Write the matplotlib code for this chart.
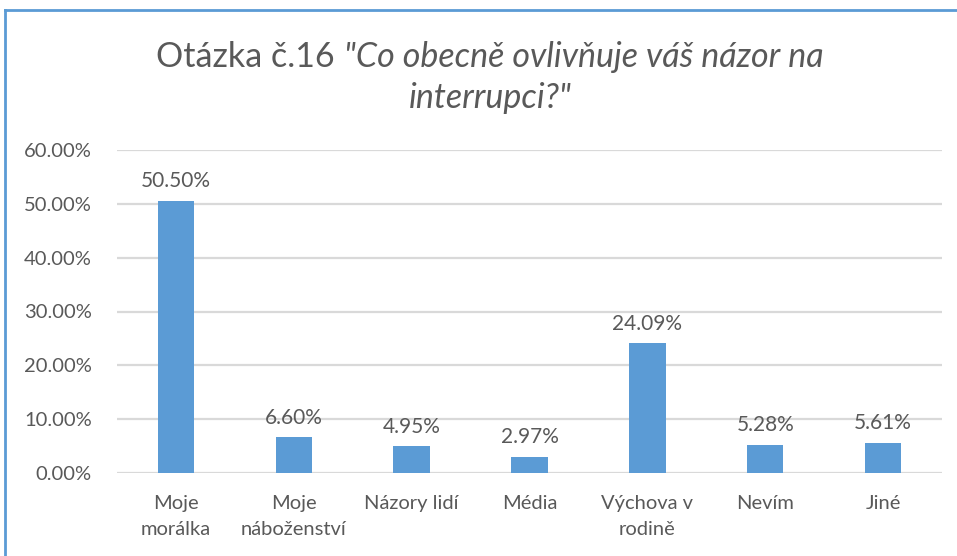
import matplotlib.pyplot as plt
from matplotlib.lines import Line2D
from matplotlib.ticker import FuncFormatter

outfile = 'out.png'

categories = ['Moje\nmorálka', 'Moje\nnáboženství', 'Názory lidí', 'Média',
              'Výchova v\nrodině', 'Nevím', 'Jiné']
values = [50.50, 6.60, 4.95, 2.97, 24.09, 5.28, 5.61]
yticks = [0, 10, 20, 30, 40, 50, 60]

title_plain = 'Otázka č.16 '
title_italic = '"Co obecně ovlivňuje váš názor na'
title_line2 = 'interrupci?"'

bar_color = '#5B9BD5'
text_color = '#595959'
grid_color = '#D9D9D9'
font = ['Lato', 'DejaVu Sans']

plt.rcParams['font.family'] = font

W, H = 957, 556
fig = plt.figure(figsize=(W / 100, H / 100), dpi=100, facecolor='w')
ax = fig.add_axes([117 / W, 1 - 473 / H, (942 - 117) / W, (473 - 150) / H])

x = list(range(len(categories)))
bars = ax.bar(x, values, width=0.31, color=bar_color, zorder=3)

ax.set_xlim(-0.5, len(categories) - 0.5)
ax.set_ylim(0, 60)
ax.set_yticks(yticks)
ax.yaxis.set_major_formatter(FuncFormatter(lambda v, p: '%.2f%%' % v))
ax.set_xticks(x)
ax.set_xticklabels(categories, linespacing=1.6)
ax.tick_params(axis='both', length=0, colors=text_color)
ax.tick_params(axis='x', pad=16, labelsize=14.5)
ax.tick_params(axis='y', pad=18, labelsize=14.5)
ax.grid(axis='y', color=grid_color, linewidth=1.6, zorder=0)
for s in ax.spines.values():
    s.set_visible(False)

for b, v in zip(bars, values):
    ax.annotate('%.2f%%' % v, (b.get_x() + b.get_width() / 2, v),
                xytext=(0, 7), textcoords='offset points',
                ha='center', va='bottom', fontsize=15, color=text_color)

# title: plain + italic parts centred as one line
renderer = fig.canvas.get_renderer()
cx = 490 / W
y1 = 1 - 57 / H
y2 = 1 - 98 / H
t1 = fig.text(0, y1, title_plain, fontsize=24.5, color=text_color, va='center')
t2 = fig.text(0, y1, title_italic, fontsize=24.5, color=text_color, va='center',
              style='italic')
w1 = t1.get_window_extent(renderer).width / W
w2 = t2.get_window_extent(renderer).width / W
start = cx - (w1 + w2) / 2
t1.set_x(start)
t2.set_x(start + w1)
fig.text(cx, y2, title_line2, fontsize=24.5, color=text_color, va='center',
         ha='center', style='italic')

# chart frame (top and left edges visible)
fig.add_artist(Line2D([5 / W, 1], [1 - 10 / H, 1 - 10 / H], color=bar_color,
                      linewidth=2, transform=fig.transFigure))
fig.add_artist(Line2D([5 / W, 5 / W], [0, 1 - 10 / H], color=bar_color,
                      linewidth=2, transform=fig.transFigure))

plt.savefig(outfile, dpi=100)
